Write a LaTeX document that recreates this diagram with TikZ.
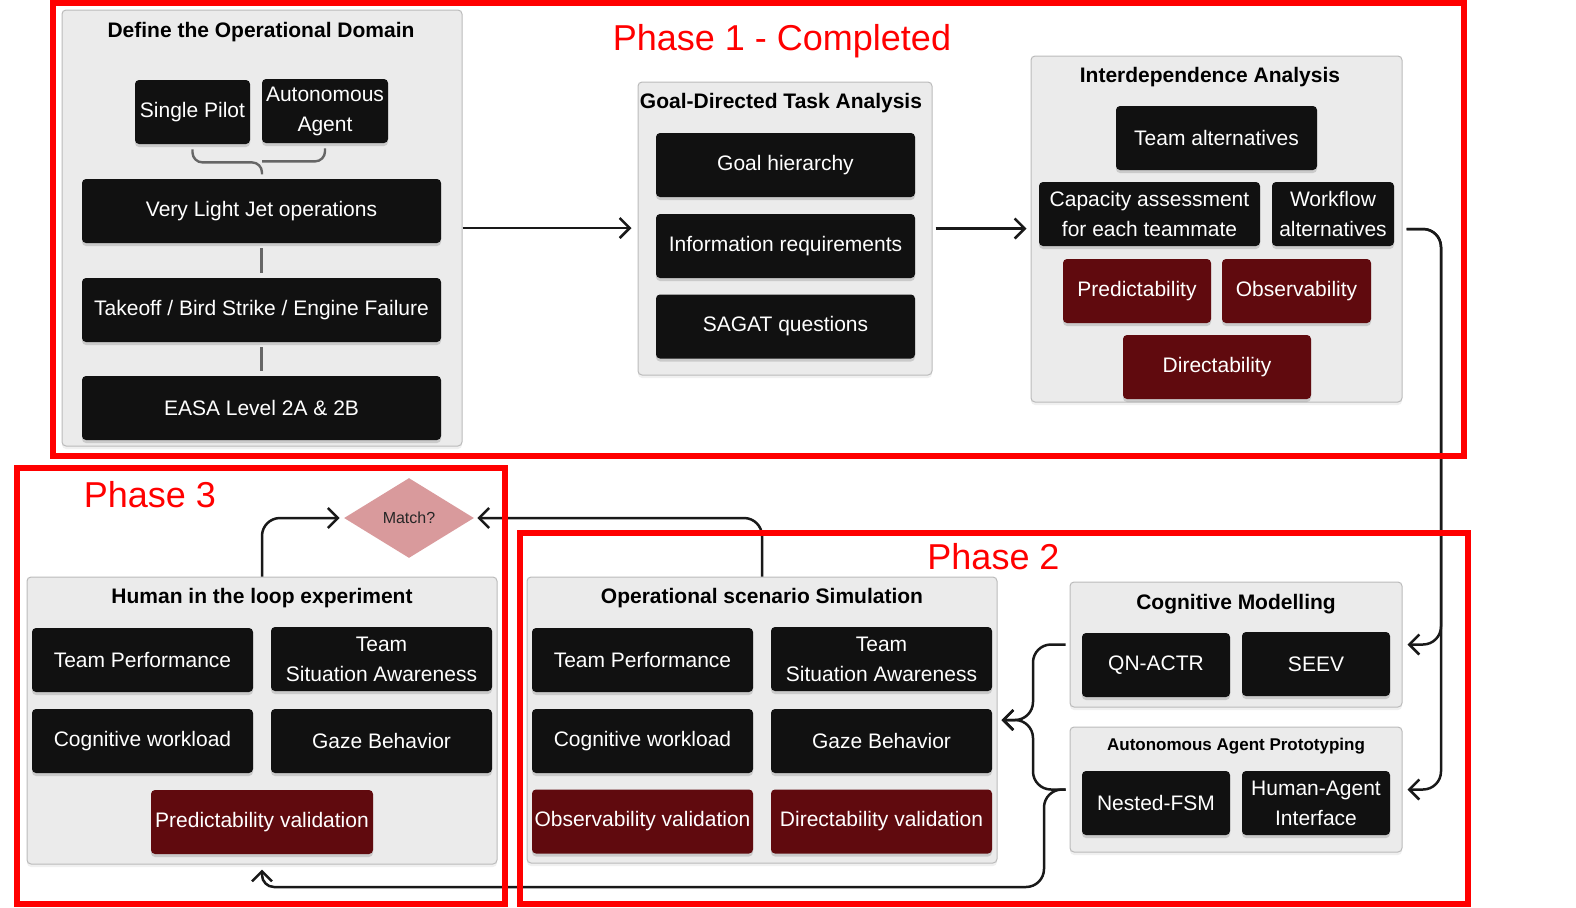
\documentclass[tikz,border=0pt]{standalone}
\usepackage{fontspec}
\setmainfont{Liberation Sans}
\usepackage{tikz}
\usetikzlibrary{arrows.meta,positioning,shapes.geometric,shadows}
\definecolor{boxblack}{HTML}{111111}
\definecolor{boxred}{HTML}{600A0E}
\definecolor{panelgray}{HTML}{EBEBEB}
\definecolor{panelline}{HTML}{BBBBBB}
\definecolor{matchpink}{HTML}{D99A9C}
\definecolor{phasered}{HTML}{FF0000}
\definecolor{linkgray}{HTML}{666666}

\begin{document}
\begin{tikzpicture}[
        x=0.5pt,
        y=-0.5pt,
        panel/.style={draw=panelline, fill=panelgray, line width=0.5pt, rounded corners=2pt, inner sep=0pt,
            drop shadow={shadow xshift=0pt, shadow yshift=-1.5pt, opacity=0.12}},
        blk/.style={fill=boxblack, text=white, rounded corners=2pt, align=center, inner sep=1pt,
            minimum height=32pt, font=\fontsize{10.5}{15}\selectfont,
            drop shadow={shadow xshift=0pt, shadow yshift=-1.5pt, opacity=0.3}},
        redblk/.style={blk, fill=boxred},
        title/.style={anchor=base, font=\bfseries\fontsize{10.5}{13}\selectfont},
        phase/.style={anchor=base, text=phasered, font=\fontsize{18}{20}\selectfont},
        frame/.style={draw=phasered, line width=3pt},
        link/.style={linkgray, line width=1.5pt, shorten <=2.5pt, shorten >=2.5pt},
        brace/.style={linkgray, line width=1.2pt, rounded corners=5pt},
        conn/.style={-{Straight Barb[length=5pt,width=10pt]}, line width=1.25pt, black!90, rounded corners=9pt}
    ]
        \useasboundingbox (0,0) rectangle (1576,907);

        % phase 1
        \node[panel, minimum width=200pt, minimum height=218pt] (def) at (262,228) {};
        \node[title] (deftitle) at (261,37) {Define the Operational Domain};
        \node[blk, minimum width=57.5pt] (sp) at (192.5,112) {Single Pilot};
        \node[blk, minimum width=63pt] (aa) at (325,111) {Autonomous\\Agent};
        \node[blk, minimum width=179.5pt] (vlj) at (261.5,211) {Very Light Jet operations};
        \node[blk, minimum width=179.5pt] (tbe) at (261.5,310) {Takeoff / Bird Strike / Engine Failure};
        \node[blk, minimum width=179.5pt] (easa) at (261.5,408) {EASA Level 2A \& 2B};

        \draw[brace] ([yshift=-2.5pt]sp.south) -- ++(0,13) -- ++(69.5,0) -- ++(0,12);
        \draw[brace] ([yshift=-2.5pt]aa.south) -- ++(0,13) -- ++(-63,0);
        \draw[link] (vlj) -- (tbe);
        \draw[link] (tbe) -- (easa);

        \node[panel, minimum width=147pt, minimum height=146.5pt] (gdta) at (785,228.5) {};
        \node[title] (gdtatitle) at (781,108) {Goal-Directed Task Analysis};
        \node[blk, minimum width=129.5pt] (gh) at (785.5,165) {Goal hierarchy};
        \node[blk, minimum width=129.5pt] (ir) at (785.5,246) {Information requirements};
        \node[blk, minimum width=129.5pt] (sq) at (785.5,326.5) {SAGAT questions};

        \node[panel, minimum width=185.5pt, minimum height=173pt] (ia) at (1216.5,229) {};
        \node[title] (iatitle) at (1210,82) {Interdependence Analysis};
        \node[blk, minimum width=100.5pt] (ta) at (1216.5,138) {Team alternatives};
        \node[blk, minimum width=110.5pt] (cap) at (1149.5,214) {Capacity assessment\\for each teammate};
        \node[blk, minimum width=61pt] (wf) at (1333,214) {Workflow\\alternatives};
        \node[redblk, minimum width=74pt] (pred) at (1137,291) {Predictability};
        \node[redblk, minimum width=74.5pt] (obs) at (1296.5,291) {Observability};
        \node[redblk, minimum width=94pt] (dir) at (1217,367) {Directability};

        % phase 2
        \node[panel, minimum width=166pt, minimum height=62.5pt] (cm) at (1236,644.5) {};
        \node[title] (cmtitle) at (1236,609) {Cognitive Modelling};
        \node[blk, minimum width=74pt] (qn) at (1156,665) {QN-ACTR};
        \node[blk, minimum width=74pt] (seev) at (1316,664) {SEEV};

        \node[panel, minimum width=166pt, minimum height=62.5pt] (aap) at (1236,789.5) {};
        \node[title, font=\bfseries\fontsize{8.5}{10}\selectfont] (aaptitle) at (1236,750) {Autonomous Agent Prototyping};
        \node[blk, minimum width=74pt] (fsm) at (1156,803) {Nested-FSM};
        \node[blk, minimum width=74pt] (hai) at (1316,803) {Human-Agent\\Interface};

        \node[panel, minimum width=235pt, minimum height=143pt] (oss) at (762,720) {};
        \node[title] (osstitle) at (762,603) {Operational scenario Simulation};
        \node[blk, minimum width=110.5pt] (osstp) at (642.5,660) {Team Performance};
        \node[blk, minimum width=110.5pt] (osssa) at (881.5,659) {Team\\Situation Awareness};
        \node[blk, minimum width=110.5pt] (osscw) at (642.5,741) {Cognitive workload};
        \node[blk, minimum width=110.5pt] (ossgb) at (881.5,741) {Gaze Behavior};
        \node[redblk, minimum width=110.5pt] (ossov) at (642.5,821.5) {Observability validation};
        \node[redblk, minimum width=110.5pt] (ossdv) at (881.5,821.5) {Directability validation};

        % phase 3
        \node[panel, minimum width=235pt, minimum height=143.5pt] (hitl) at (262,720.5) {};
        \node[title] (hitltitle) at (262,603) {Human in the loop experiment};
        \node[blk, minimum width=110.5pt] (hitltp) at (142.5,660) {Team Performance};
        \node[blk, minimum width=110.5pt] (hitlsa) at (381.5,659) {Team\\Situation Awareness};
        \node[blk, minimum width=110.5pt] (hitlcw) at (142.5,741) {Cognitive workload};
        \node[blk, minimum width=110.5pt] (hitlgb) at (381.5,741) {Gaze Behavior};
        \node[redblk, minimum width=111pt] (hitlpv) at (262,822) {Predictability validation};

        \node[diamond, fill=matchpink, minimum width=65pt, minimum height=40pt, inner sep=0pt,
            font=\fontsize{8}{10}\selectfont, text=black!85] (match) at (409,518) {Match?};

        % connectors
        \coordinate (rbend) at (1441,229);
        \coordinate (bracex) at (1033,0);
        \coordinate (retx) at (1044,887);

        \draw[conn, shorten >=3pt] (def.east) -- (def.east -| gdta.west);
        \draw[conn, shorten <=1.5pt, shorten >=2pt] (gdta.east) -- (gdta.east -| ia.west);
        \draw[conn] ([xshift=2pt]ia.east) -- (rbend) |- ([xshift=2.5pt]cm.east);
        \draw[conn] ([xshift=2pt]ia.east) -- (rbend) |- ([xshift=2.5pt]aap.east);

        \draw[conn] ([xshift=-2pt]cm.west) -| (bracex |- oss.east) -- ([xshift=2pt]oss.east);
        \draw[conn] ([xshift=-2pt]aap.west) -| (bracex |- oss.east) -- ([xshift=2pt]oss.east);
        \draw[conn] ([xshift=-2pt]aap.west) -| (retx) [rounded corners=6pt] -| ([yshift=-2.5pt]hitl.south);

        \draw[conn] (hitl.north) |- ([xshift=-2pt]match.west);
        \draw[conn] (oss.north) |- ([xshift=1.5pt]match.east);

        % phase frames
        \draw[frame] (53,3) rectangle (1464,456);
        \draw[frame] (17,468) rectangle (504.5,904);
        \draw[frame] (520,533) rectangle (1468,904);
        \node[phase] (phaseone) at (782,50) {Phase 1 - Completed};
        \node[phase] (phasetwo) at (993.5,569) {Phase 2};
        \node[phase] (phasethree) at (150,507) {Phase 3};
    \end{tikzpicture}
\end{document}
